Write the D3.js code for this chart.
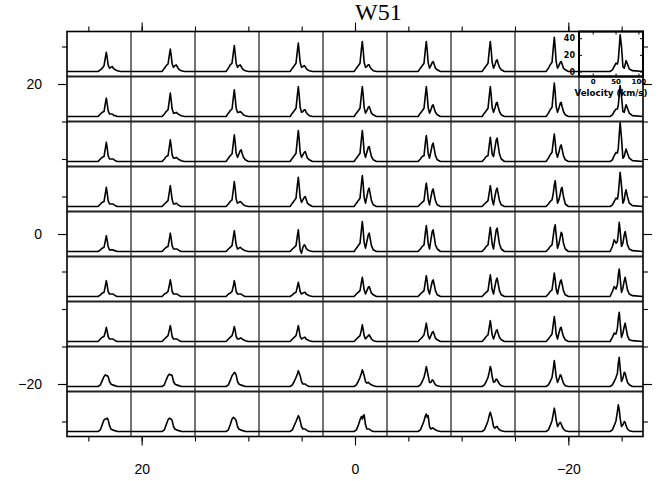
<!DOCTYPE html>
<html>
<head>
<meta charset="utf-8">
<script src="https://cdn.jsdelivr.net/npm/d3@7/dist/d3.min.js"></script>
<style>
  body { margin: 0; background: #fff; }
  svg { display: block; }
</style>
</head>
<body>
<script>
// Map of W51 spectra on a 6" grid: offsets in arcsec, velocity in km/s, intensity in K.
const raOffsets = [24, 18, 12, 6, 0, -6, -12, -18, -24];
const decOffsets = [24, 18, 12, 6, 0, -6, -12, -18, -24];
const velocity = [-30, 38, 43, 47, 51, 54, 56, 58, 60, 63, 66, 69, 71, 73, 76, 80, 87, 110];

const spectraDec24 = [
  [0,0,2,4,7,17,23,16,8,4,5,6,4,3,2,1,0,0],
  [0,0,4,7,9,20,27,19,9,5,7,8,6,4,2,1,0,0],
  [0,0,4,8,10,23,31,21,10,5,7,8,6,4,2,1,0,0],
  [0,0,4,7,10,25,34,23,11,5,6,7,6,4,2,1,0,0],
  [0,0,4,7,10,27,36,25,11,5,6,8,8,5,3,1,0,0],
  [0,0,4,7,10,27,36,25,11,4,7,11,12,9,4,2,0,0],
  [0,0,4,7,10,27,36,25,11,4,8,13,14,10,5,2,0,0],
  [0,0,4,8,11,30,41,28,12,4,7,11,12,9,4,2,0,0],
  [0,0,2,6,10,9,14,28,44,30,6,4,8,13,9,3,1,0]
];
const spectraDec18 = [
  [0,0,3,5,6,16,22,15,7,3,3,3,2,1,1,0,0,0],
  [0,0,3,6,8,20,28,19,9,4,4,5,4,3,2,1,0,0],
  [0,0,4,7,9,23,32,22,10,5,5,6,5,4,2,1,0,0],
  [0,0,4,7,10,26,36,25,11,5,6,8,8,5,3,1,0,0],
  [0,0,4,7,10,26,36,25,11,4,7,11,12,9,4,2,0,0],
  [0,0,4,7,10,26,36,25,11,4,8,13,14,10,5,2,0,0],
  [0,0,4,7,10,26,36,25,11,5,10,16,17,12,6,2,0,0],
  [0,0,4,8,11,29,40,28,12,5,10,16,17,12,6,2,0,0],
  [0,0,2,6,9,9,14,26,37,24,6,5,10,14,10,4,1,0]
];
const spectraDec12 = [
  [0,0,3,5,6,16,23,16,7,3,3,3,3,2,1,0,0,0],
  [0,0,3,6,7,18,26,18,8,4,4,5,4,3,2,1,0,0],
  [0,0,4,7,9,23,32,22,10,5,9,13,14,10,5,2,0,0],
  [0,0,4,7,10,27,37,26,11,5,8,11,12,9,4,2,0,0],
  [0,0,4,7,10,27,37,26,11,5,11,17,18,13,6,2,0,0],
  [0,0,3,6,7,23,31,22,10,4,12,20,22,16,7,2,0,0],
  [0,0,3,6,7,21,29,20,9,6,16,26,28,20,9,3,0,0],
  [0,0,4,8,11,25,33,23,11,5,11,18,20,15,7,2,0,0],
  [0,0,2,7,11,10,16,32,47,28,4,6,11,15,10,4,1,0]
];
const spectraDec6 = [
  [0,0,3,5,6,16,23,16,7,3,3,3,3,2,1,0,0,0],
  [0,0,3,5,7,18,25,17,8,3,3,4,3,2,1,0,0,0],
  [0,0,3,6,8,21,30,21,9,4,5,6,5,4,2,1,0,0],
  [0,0,4,7,10,26,35,24,11,5,8,11,12,9,4,2,0,0],
  [0,0,4,7,10,27,37,26,11,4,12,20,22,16,7,2,0,0],
  [0,0,3,5,7,21,28,20,9,2,11,19,21,15,7,2,0,0],
  [0,0,3,5,7,18,25,18,8,2,12,20,22,16,7,2,0,0],
  [0,0,3,6,8,17,26,31,20,4,8,15,21,23,12,3,0,0],
  [0,0,2,6,10,9,15,28,41,25,4,8,16,20,12,4,1,0]
];
const spectraDec0 = [
  [0,0,2,4,5,13,19,13,6,2,2,2,2,1,1,0,0,0],
  [0,0,3,5,6,15,22,15,7,3,3,3,3,2,1,0,0,0],
  [0,0,3,5,7,18,25,17,8,3,4,5,4,3,2,1,0,0],
  [0,0,3,5,7,19,26,14,2,-2,5,8,7,4,2,1,0,0],
  [0,0,4,7,10,26,36,25,11,4,12,20,22,16,7,2,0,0],
  [0,0,3,6,8,23,31,22,10,3,14,24,26,19,8,3,0,0],
  [0,0,3,6,8,21,29,20,9,3,15,26,28,20,9,3,0,0],
  [0,0,3,6,8,20,28,32,20,4,9,17,23,21,10,3,0,0],
  [0,0,6,14,10,12,22,35,25,6,10,20,24,18,8,3,1,0]
];
const spectraDecM6 = [
  [0,0,2,4,5,13,19,13,6,3,3,3,3,2,1,0,0,0],
  [0,0,3,4,6,14,20,14,6,3,3,3,3,2,1,0,0,0],
  [0,0,3,4,6,13,19,13,6,3,3,3,3,2,1,0,0,0],
  [0,0,2,4,5,12,17,12,6,3,4,5,5,3,2,1,0,0],
  [0,0,3,5,7,17,23,16,8,3,7,11,12,9,4,2,0,0],
  [0,0,3,5,7,18,25,18,8,3,11,18,20,15,7,2,0,0],
  [0,0,3,5,7,19,26,18,8,3,12,20,22,16,7,2,0,0],
  [0,0,3,6,8,20,28,20,9,3,11,18,20,15,7,2,0,0],
  [0,0,6,12,9,14,26,33,22,5,10,19,23,17,8,3,1,0]
];
const spectraDecM12 = [
  [0,0,3,5,6,12,17,12,6,3,3,3,3,2,1,0,0,0],
  [0,0,3,5,7,14,19,13,6,3,3,3,3,2,1,0,0,0],
  [0,0,3,5,7,13,18,13,6,3,3,4,4,3,2,1,0,0],
  [0,0,3,5,7,14,19,13,6,3,4,5,5,3,2,1,0,0],
  [0,0,3,5,7,14,20,14,7,3,5,7,8,6,3,1,0,0],
  [0,0,3,5,8,16,22,15,7,3,7,11,12,9,4,2,0,0],
  [0,0,3,6,8,18,25,17,8,3,8,13,14,10,5,2,0,0],
  [0,0,3,6,9,22,30,21,9,3,10,16,17,12,6,2,0,0],
  [0,0,5,10,9,16,28,35,23,5,10,18,22,16,7,2,1,0]
];
const spectraDecM18 = [
  [0,0,2,7,12,14,13,13,12,6,3,2,2,1,1,0,0,0],
  [0,0,2,8,13,15,14,14,13,6,3,2,2,1,1,0,0,0],
  [0,0,2,7,13,15,17,16,14,6,3,2,2,1,1,0,0,0],
  [0,0,2,6,11,15,19,16,13,6,3,3,3,2,1,0,0,0],
  [0,0,2,6,11,16,20,17,13,6,4,5,4,3,2,1,0,0],
  [0,0,2,6,11,18,24,19,13,5,5,8,7,5,2,1,0,0],
  [0,0,2,6,11,18,24,20,12,5,6,9,8,6,3,1,0,0],
  [0,0,2,6,11,22,31,22,12,5,9,14,13,9,4,1,0,0],
  [0,0,2,6,11,16,28,35,22,6,10,17,16,11,5,2,0,0]
];
const spectraDecM24 = [
  [0,0,2,8,14,15,15,16,14,7,3,2,2,1,1,0,0,0],
  [0,0,2,8,14,16,15,15,13,6,3,2,2,1,1,0,0,0],
  [0,0,2,8,15,17,16,15,13,6,3,2,2,1,1,0,0,0],
  [0,0,2,7,12,16,19,17,13,6,3,3,3,2,1,0,0,0],
  [0,0,2,7,14,18,15,19,20,8,3,3,3,2,1,0,0,0],
  [0,0,2,7,13,19,21,17,19,6,3,4,4,3,2,1,0,0],
  [0,0,2,7,13,20,23,19,15,6,4,6,6,4,2,1,0,0],
  [0,0,2,7,13,22,28,22,14,6,9,11,9,6,3,1,0,0],
  [0,0,2,7,13,24,32,26,16,6,8,12,11,7,3,1,0,0]
];
const spectraRows = [spectraDec24, spectraDec18, spectraDec12, spectraDec6, spectraDec0,
                     spectraDecM6, spectraDecM12, spectraDecM18, spectraDecM24];

const offsetMajorTicks = [-20, 0, 20];
const offsetMinorTicks = [-25, -20, -15, -10, -5, 0, 5, 10, 15, 20, 25];
const cellEdges = [21, 15, 9, 3, -3, -9, -15, -21];
const insetTempTicks = [0, 20, 40];
const insetVelTicks = [0, 50, 100];
const titleText = "W51";
const insetXLabel = "Velocity (km/s)";

const W = 669, H = 481;
const svg = d3.select("body").append("svg").attr("width", W).attr("height", H);

const x = d3.scaleLinear().domain([27, -27]).range([67, 643]);
const y = d3.scaleLinear().domain([-27, 27]).range([436.5, 31.5]);
const half = 3;
const cellW = x(-half) - x(half);
const cellH = y(-half) - y(half);

const vx = d3.scaleLinear().domain([-30, 110]).range([0, cellW]);
const ty = d3.scaleLinear().domain([-6, 48]).range([cellH, 0]);
const line = d3.line().x(d => vx(d[0])).y(d => ty(d[1]));

const fmt = d => d < 0 ? "\u2212" + (-d) : String(d);

// spectra
const cells = svg.append("g");
spectraRows.forEach((row, i) => {
  row.forEach((spec, j) => {
    const g = cells.append("g")
      .attr("transform", `translate(${x(raOffsets[j] + half)},${y(decOffsets[i] + half)})`);
    g.append("path")
      .datum(velocity.map((v, k) => [v, spec[k]]))
      .attr("d", line)
      .attr("fill", "none")
      .attr("stroke", "#000")
      .attr("stroke-width", 1.6)
      .attr("stroke-linejoin", "round");
  });
});

// cell separators
svg.append("g").selectAll("line").data(cellEdges).join("line")
  .attr("x1", d => x(d)).attr("x2", d => x(d))
  .attr("y1", y(27)).attr("y2", y(-27))
  .attr("stroke", "#000").attr("stroke-width", 1.1);
svg.append("g").selectAll("line").data(cellEdges).join("line")
  .attr("y1", d => y(d)).attr("y2", d => y(d))
  .attr("x1", x(27)).attr("x2", x(-27))
  .attr("stroke", "#222").attr("stroke-width", 2);

// outer frame
svg.append("rect")
  .attr("x", x(27)).attr("y", y(27))
  .attr("width", x(-27) - x(27)).attr("height", y(-27) - y(27))
  .attr("fill", "none").attr("stroke", "#000").attr("stroke-width", 1.6);

// offset axes on four sides
function styleAxis(g) {
  g.select(".domain").remove();
  g.selectAll(".tick line").attr("stroke", "#000").attr("stroke-width", 1.1);
  g.selectAll("text").attr("fill", "#000")
    .style("font-family", "'Liberation Sans', Arial, Helvetica, sans-serif")
    .style("font-size", "14px");
}
const sides = [
  { axis: d3.axisBottom(x), t: `translate(0,${y(-27)})`, label: true, pad: 19 },
  { axis: d3.axisTop(x), t: `translate(0,${y(27)})`, label: false, pad: 3 },
  { axis: d3.axisLeft(y), t: `translate(${x(27)},0)`, label: true, pad: 16 },
  { axis: d3.axisRight(y), t: `translate(${x(-27)},0)`, label: false, pad: 3 }
];
sides.forEach(s => {
  svg.append("g").attr("transform", s.t)
    .call(s.axis.tickValues(offsetMinorTicks).tickSize(5).tickFormat(""))
    .call(styleAxis);
  svg.append("g").attr("transform", s.t)
    .call(s.axis.tickValues(offsetMajorTicks).tickSize(9).tickPadding(s.pad)
      .tickFormat(s.label ? fmt : ""))
    .call(styleAxis);
});

// intensity scale box on the top-right spectrum
const ix0 = x(raOffsets[8] + half), iy0 = y(decOffsets[0] + half);
const inset = svg.append("g").attr("transform", `translate(${ix0},${iy0})`);
inset.append("rect").attr("width", cellW).attr("height", cellH)
  .attr("fill", "none").attr("stroke", "#000").attr("stroke-width", 2);
const insetFont = size => g => g.selectAll("text")
  .style("font-family", "'DejaVu Sans', Arial, sans-serif")
  .style("font-weight", "bold").style("font-size", size).attr("fill", "#000");
inset.append("g")
  .call(d3.axisLeft(ty).tickValues(insetTempTicks).tickSize(-3).tickPadding(4))
  .call(g => g.select(".domain").remove())
  .call(insetFont("8px"));
inset.append("g").attr("transform", `translate(${cellW},0)`)
  .call(d3.axisRight(ty).tickValues(insetTempTicks).tickSize(-3).tickFormat(""))
  .call(g => g.select(".domain").remove());
inset.append("g").attr("transform", `translate(0,${cellH})`)
  .call(d3.axisBottom(vx).tickValues(insetVelTicks).tickSize(-3).tickPadding(3))
  .call(g => g.select(".domain").remove())
  .call(insetFont("7px"));
inset.append("g")
  .call(d3.axisTop(vx).tickValues(insetVelTicks).tickSize(-3).tickFormat(""))
  .call(g => g.select(".domain").remove());
inset.append("text")
  .attr("x", cellW / 2).attr("y", cellH + 19)
  .attr("text-anchor", "middle")
  .attr("textLength", 73).attr("lengthAdjust", "spacingAndGlyphs")
  .style("font-family", "'DejaVu Sans', Arial, sans-serif")
  .style("font-weight", "bold").style("font-size", "8px")
  .text(insetXLabel);

// title
svg.append("text")
  .attr("x", x(0)).attr("y", 20)
  .style("font-family", "'Liberation Serif', 'Times New Roman', serif")
  .style("font-size", "24px")
  .attr("fill", "#000")
  .text(titleText);
</script>
</body>
</html>
